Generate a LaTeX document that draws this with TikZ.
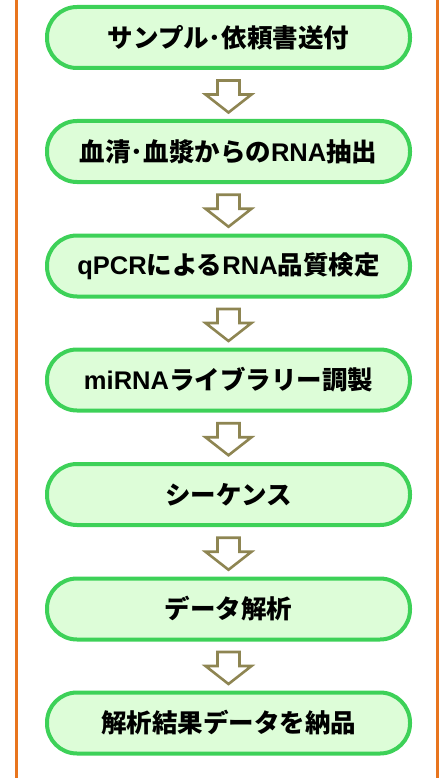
\documentclass[tikz,border=0pt]{standalone}
\usepackage{fontspec}
\newfontfamily\jp{Noto Sans CJK JP}
\newfontfamily\lat{Liberation Sans}
\usetikzlibrary{calc}
\definecolor{frameorange}{HTML}{E8751E}
\definecolor{boxgreen}{HTML}{3DD158}
\definecolor{boxfill}{HTML}{DDFDD8}
\definecolor{arrowolive}{HTML}{8E8552}
\tikzset{
  stepbox/.style={draw=boxgreen, fill=boxfill, line width=4pt, rounded corners=30pt,
    minimum width=363pt, minimum height=61pt, inner sep=0pt,
    font=\jp\bfseries\fontsize{25.5pt}{28pt}\selectfont, text=black},
  blockarrow/.style={draw=arrowolive, line width=2.6pt, line join=miter, fill=white},
  frameline/.style={draw=frameorange, line width=3pt}
}
\begin{document}
\begin{tikzpicture}[x=1pt,y=-1pt]
\useasboundingbox (0,0) rectangle (446,778);
\draw[frameline] (16.5,0) -- (16.5,778);
\draw[frameline] (437.5,0) -- (437.5,778);
\node[stepbox] (s1) at (228.5,37.5) {サンプル･依頼書送付};
\node[stepbox] (s2) at (228.5,151.5) {血清･血漿からの{\lat RNA}抽出};
\node[stepbox] (s3) at (228.5,266) {{\lat qPCR}による{\lat RNA}品質検定};
\node[stepbox] (s4) at (228.5,380) {{\lat miRNA}ライブラリー調製};
\node[stepbox] (s5) at (228.5,494.5) {シーケンス};
\node[stepbox] (s6) at (228.5,609) {データ解析};
\node[stepbox] (s7) at (228.5,723) {解析結果データを納品};
\foreach \a/\b in {s1/s2,s2/s3,s3/s4,s4/s5,s5/s6,s6/s7}{
  \coordinate (m) at ($(\a.south)!0.5!(\b.north)$);
  \draw[blockarrow] ($(m)+(-11,-14)$) -- ($(m)+(11,-14)$) -- ($(m)+(11,0)$) -- ($(m)+(23,0)$)
    -- ($(m)+(0,18)$) -- ($(m)+(-23,0)$) -- ($(m)+(-11,0)$) -- cycle;
}
\end{tikzpicture}
\end{document}
